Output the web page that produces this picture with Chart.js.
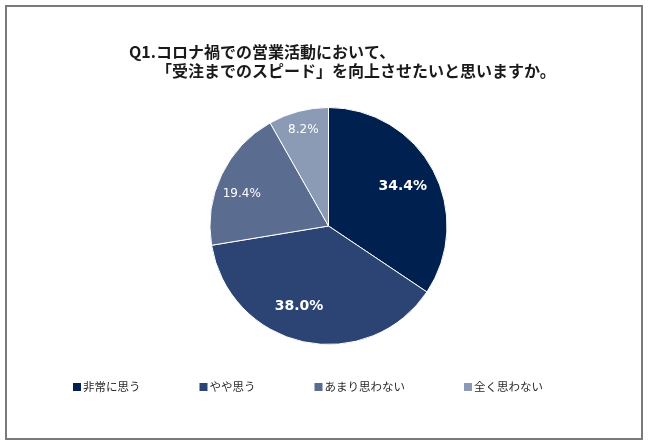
<!DOCTYPE html>
<html>
<head>
<meta charset="utf-8">
<script src="https://cdn.jsdelivr.net/npm/chart.js@4/dist/chart.umd.min.js"></script>
<style>
  html, body { margin: 0; padding: 0; background: #ffffff; }
  #wrap { width: 650px; height: 446px; position: relative; }
</style>
</head>
<body>
<div id="wrap"><canvas id="c" width="650" height="446"></canvas></div>
<script>
// ---- data ----
const categories = ['非常に思う', 'やや思う', 'あまり思わない', '全く思わない'];
const percentValues = [34.4, 38.0, 19.4, 8.2];
const titleLines = ['Q1.コロナ禍での営業活動において、', '「受注までのスピード」を向上させたいと思いますか。'];

// ---- styles ----
const sliceColors = ['#00204f', '#2b4473', '#5a6d91', '#8b9bb6'];
const labelStyle = [
  { bold: true,  size: 14, rf: 0.71, da: 0 },
  { bold: true,  size: 14, rf: 0.725, da: 7.8 },
  { bold: false, size: 12, rf: 0.78, da: -5.4 },
  { bold: false, size: 12, rf: 0.835, da: 0 }
];
const CJK = '"Noto Sans CJK JP", "Noto Sans", sans-serif';

const framePlugin = {
  id: 'frame',
  beforeDraw(chart) {
    const ctx = chart.ctx;
    ctx.save();
    ctx.fillStyle = '#ffffff';
    ctx.fillRect(0, 0, chart.width, chart.height);
    ctx.strokeStyle = '#7a7a7a';
    ctx.lineWidth = 2;
    ctx.strokeRect(6, 6, 636, 433);
    ctx.restore();
  },
  afterDraw(chart) {
    const ctx = chart.ctx;
    ctx.save();
    // title
    ctx.fillStyle = '#1a1a1a';
    ctx.font = 'bold 16px ' + CJK;
    ctx.textBaseline = 'middle';
    ctx.textAlign = 'left';
    ctx.fillText(titleLines[0], 129, 52);
    ctx.fillText(titleLines[1], 156, 71);

    // slice labels
    const meta = chart.getDatasetMeta(0);
    meta.data.forEach((arc, i) => {
      const st = labelStyle[i];
      const p = arc.getProps(['x', 'y', 'startAngle', 'endAngle', 'outerRadius'], true);
      const a = (p.startAngle + p.endAngle) / 2 + st.da * Math.PI / 180;
      const r = p.outerRadius * st.rf;
      const x = p.x + Math.cos(a) * r;
      const y = p.y + Math.sin(a) * r;
      ctx.font = (st.bold ? 'bold ' : '') + st.size + 'px "DejaVu Sans", sans-serif';
      ctx.fillStyle = '#ffffff';
      ctx.textAlign = 'center';
      ctx.textBaseline = 'middle';
      ctx.fillText(percentValues[i].toFixed(1) + '%', x, y);
    });

    // legend
    ctx.font = '11.5px ' + CJK;
    ctx.textAlign = 'left';
    ctx.textBaseline = 'middle';
    let lx = 73;
    const ly = 387;
    categories.forEach((name, i) => {
      ctx.fillStyle = sliceColors[i];
      ctx.fillRect(lx, ly - 4, 8, 8);
      ctx.fillStyle = '#2a2a2a';
      ctx.fillText(name, lx + 10, ly);
      lx += 10 + ctx.measureText(name).width + 59;
    });
    ctx.restore();
  }
};

new Chart(document.getElementById('c'), {
  type: 'pie',
  data: {
    labels: categories,
    datasets: [{
      data: percentValues,
      backgroundColor: sliceColors,
      borderColor: '#ffffff',
      borderWidth: 1
    }]
  },
  options: {
    responsive: false,
    animation: false,
    events: [],
    layout: { padding: { top: 107, bottom: 101, left: 7, right: 0 } },
    plugins: {
      legend: { display: false },
      title: { display: false },
      tooltip: { enabled: false }
    }
  },
  plugins: [framePlugin]
});
</script>
</body>
</html>
